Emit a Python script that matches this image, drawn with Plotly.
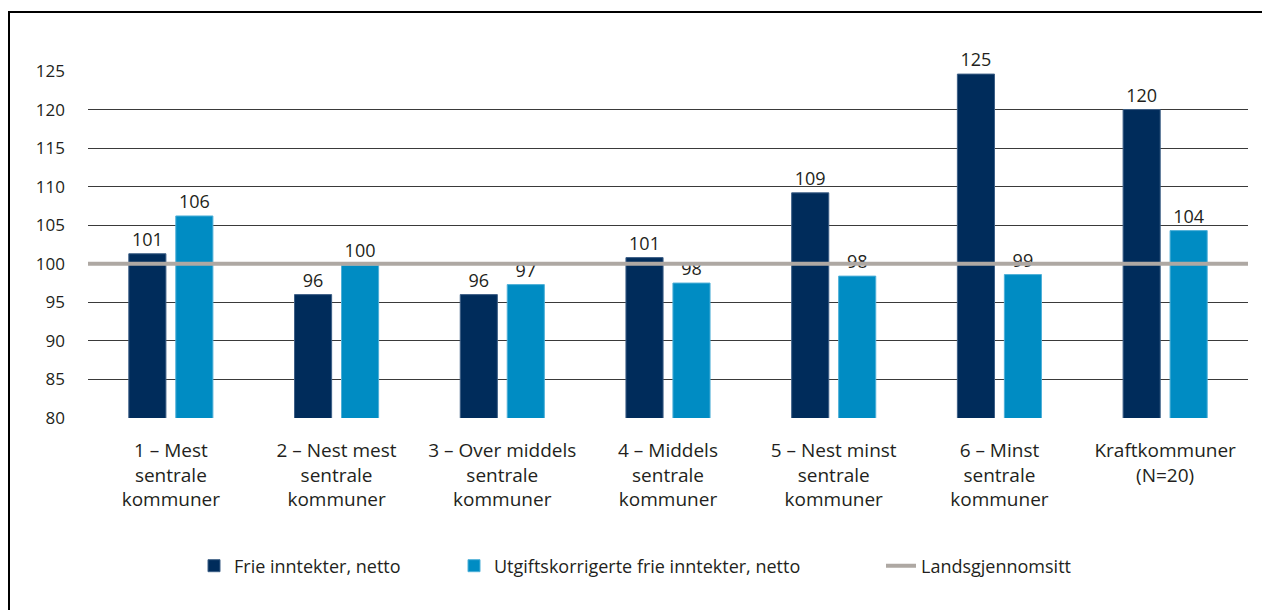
import plotly.graph_objects as go

categories = [
    "1 – Mest<br>sentrale<br>kommuner",
    "2 – Nest mest<br>sentrale<br>kommuner",
    "3 – Over middels<br>sentrale<br>kommuner",
    "4 – Middels<br>sentrale<br>kommuner",
    "5 – Nest minst<br>sentrale<br>kommuner",
    "6 – Minst<br>sentrale<br>kommuner",
    "Kraftkommuner<br>(N=20)",
]
frie_inntekter = [101.3, 96.0, 96.0, 100.8, 109.2, 124.6, 120.0]
utgiftskorrigerte = [106.2, 99.8, 97.3, 97.5, 98.4, 98.6, 104.3]
landsgjennomsitt = 100
y_ticks = [80, 85, 90, 95, 100, 105, 110, 115, 120, 125]

FONT = "Open Sans"
TXT = "#231f20"
DARK = "#002c5b"
LIGHT = "#008cc3"
GREY = "#aea8a3"

# page body adds 8px offset; figure is sized/positioned to compensate
W, H = 1262, 602
L, R, T, B = 80, 22, 63, 192
pw, ph = W - L - R, H - T - B


def px_x(px):
    return (px - L) / pw


def px_y(py):
    return (H - B - py) / ph


fig = go.Figure()
fig.add_bar(
    x=categories, y=frie_inntekter, name="Frie inntekter, netto",
    marker=dict(color=DARK, line=dict(color="#3d5f86", width=1)),
    text=[f"{v:.0f}" for v in frie_inntekter], textposition="outside",
    textfont=dict(family=FONT, size=18, color=TXT), cliponaxis=False,
    legend="legend",
)
fig.add_bar(
    x=categories, y=utgiftskorrigerte, name="Utgiftskorrigerte frie inntekter, netto",
    marker=dict(color=LIGHT, line=dict(color="#4fb0d8", width=1)),
    text=[f"{v:.0f}" for v in utgiftskorrigerte], textposition="outside",
    textfont=dict(family=FONT, size=18, color=TXT), cliponaxis=False,
    legend="legend2",
)
fig.add_scatter(
    x=[None], y=[None], mode="lines", name="Landsgjennomsitt",
    line=dict(color=GREY, width=4), legend="legend3",
)
fig.add_shape(
    type="line", xref="paper", yref="y", x0=0, x1=1,
    y0=landsgjennomsitt, y1=landsgjennomsitt,
    line=dict(color=GREY, width=4), layer="above",
)
# outer frame (left and top edges)
fig.add_shape(type="line", xref="paper", yref="paper",
              x0=px_x(1), x1=px_x(1), y0=px_y(4), y1=px_y(640),
              line=dict(color="black", width=2))
fig.add_shape(type="line", xref="paper", yref="paper",
              x0=px_x(0), x1=px_x(1300), y0=px_y(4), y1=px_y(4),
              line=dict(color="black", width=2))

legend_common = dict(
    orientation="h", yanchor="middle", xanchor="left", visible=True,
    font=dict(family=FONT, size=18, color=TXT), bgcolor="rgba(0,0,0,0)",
    itemwidth=30,
)
fig.update_layout(
    width=W, height=H,
    margin=dict(l=L, r=R, t=T, b=B),
    paper_bgcolor="white", plot_bgcolor="white",
    showlegend=True,
    barmode="group", bargap=0.433, bargroupgap=0.21,
    font=dict(family=FONT, size=18, color=TXT),
    legend=dict(x=px_x(186), y=px_y(558), **legend_common),
    legend2=dict(x=px_x(446), y=px_y(558), **legend_common),
    legend3=dict(x=px_x(873), y=px_y(558), **legend_common),
    xaxis=dict(
        showgrid=False, showline=False, ticks="",
        tickfont=dict(family=FONT, size=19, color=TXT),
        ticklabelstandoff=19,
    ),
    yaxis=dict(
        range=[80, 125], tickvals=y_ticks, showgrid=True,
        gridcolor="#3a3a3a", gridwidth=1, zeroline=False, showline=False,
        tickfont=dict(family=FONT, size=17, color=TXT),
        ticklabelstandoff=22,
    ),
)
fig.write_html("out.html")
